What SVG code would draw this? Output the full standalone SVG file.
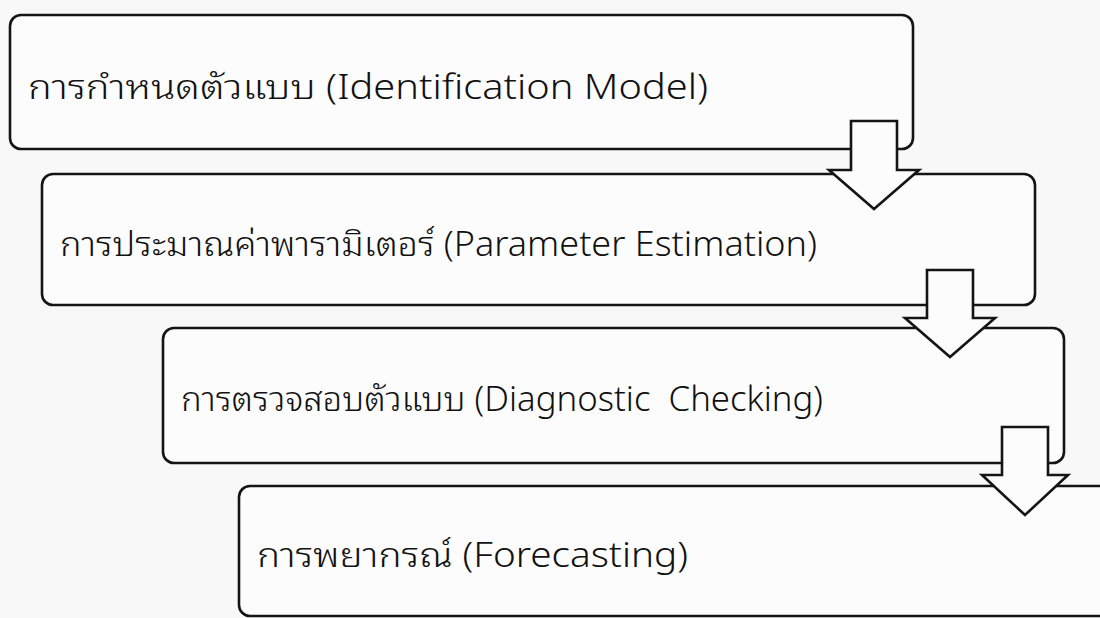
<svg xmlns="http://www.w3.org/2000/svg" width="1100" height="618" viewBox="0 0 1100 618">
<style>
.box{fill:#fcfcfc;stroke:#141414;stroke-width:2.6}
.arrow{fill:#fcfcfc;stroke:#141414;stroke-width:2.6;stroke-linejoin:miter}
.lbl{font-family:"Noto Sans Thai Looped","Noto Sans Thai","Noto Sans","Loma","Garuda","DejaVu Sans",sans-serif;font-size:34px;font-weight:300;fill:#111;white-space:pre}
</style>
<rect width="1100" height="618" fill="#f8f8f8"/>
<g id="node1">
<rect class="box" x="10" y="15" width="903" height="134" rx="11"/>
<text class="lbl" x="28" y="99" textLength="680" lengthAdjust="spacingAndGlyphs">การกำหนดตัวแบบ (Identification Model)</text>
</g>
<g id="node2">
<rect class="box" x="42" y="174" width="993" height="131" rx="11"/>
<text class="lbl" x="60" y="256" textLength="757" lengthAdjust="spacingAndGlyphs">การประมาณค่าพารามิเตอร์ (Parameter Estimation)</text>
</g>
<g id="node3">
<rect class="box" x="163" y="328" width="901" height="135" rx="11"/>
<text class="lbl" x="181" y="411" textLength="642" lengthAdjust="spacingAndGlyphs" xml:space="preserve">การตรวจสอบตัวแบบ (Diagnostic  Checking)</text>
</g>
<g id="node4">
<rect class="box" x="239" y="486" width="880" height="130" rx="11"/>
<text class="lbl" x="257" y="567" textLength="431" lengthAdjust="spacingAndGlyphs">การพยากรณ์ (Forecasting)</text>
</g>
<g id="connectors">
<path class="arrow" d="M851,121 H897 V170 H919 L874,209 L829,170 H851 Z"/>
<path class="arrow" d="M927,270 H973 V318 H995 L950,357 L905,318 H927 Z"/>
<path class="arrow" d="M1002,427 H1048 V475 H1068 L1025,515 L982,475 H1002 Z"/>
</g>
</svg>
